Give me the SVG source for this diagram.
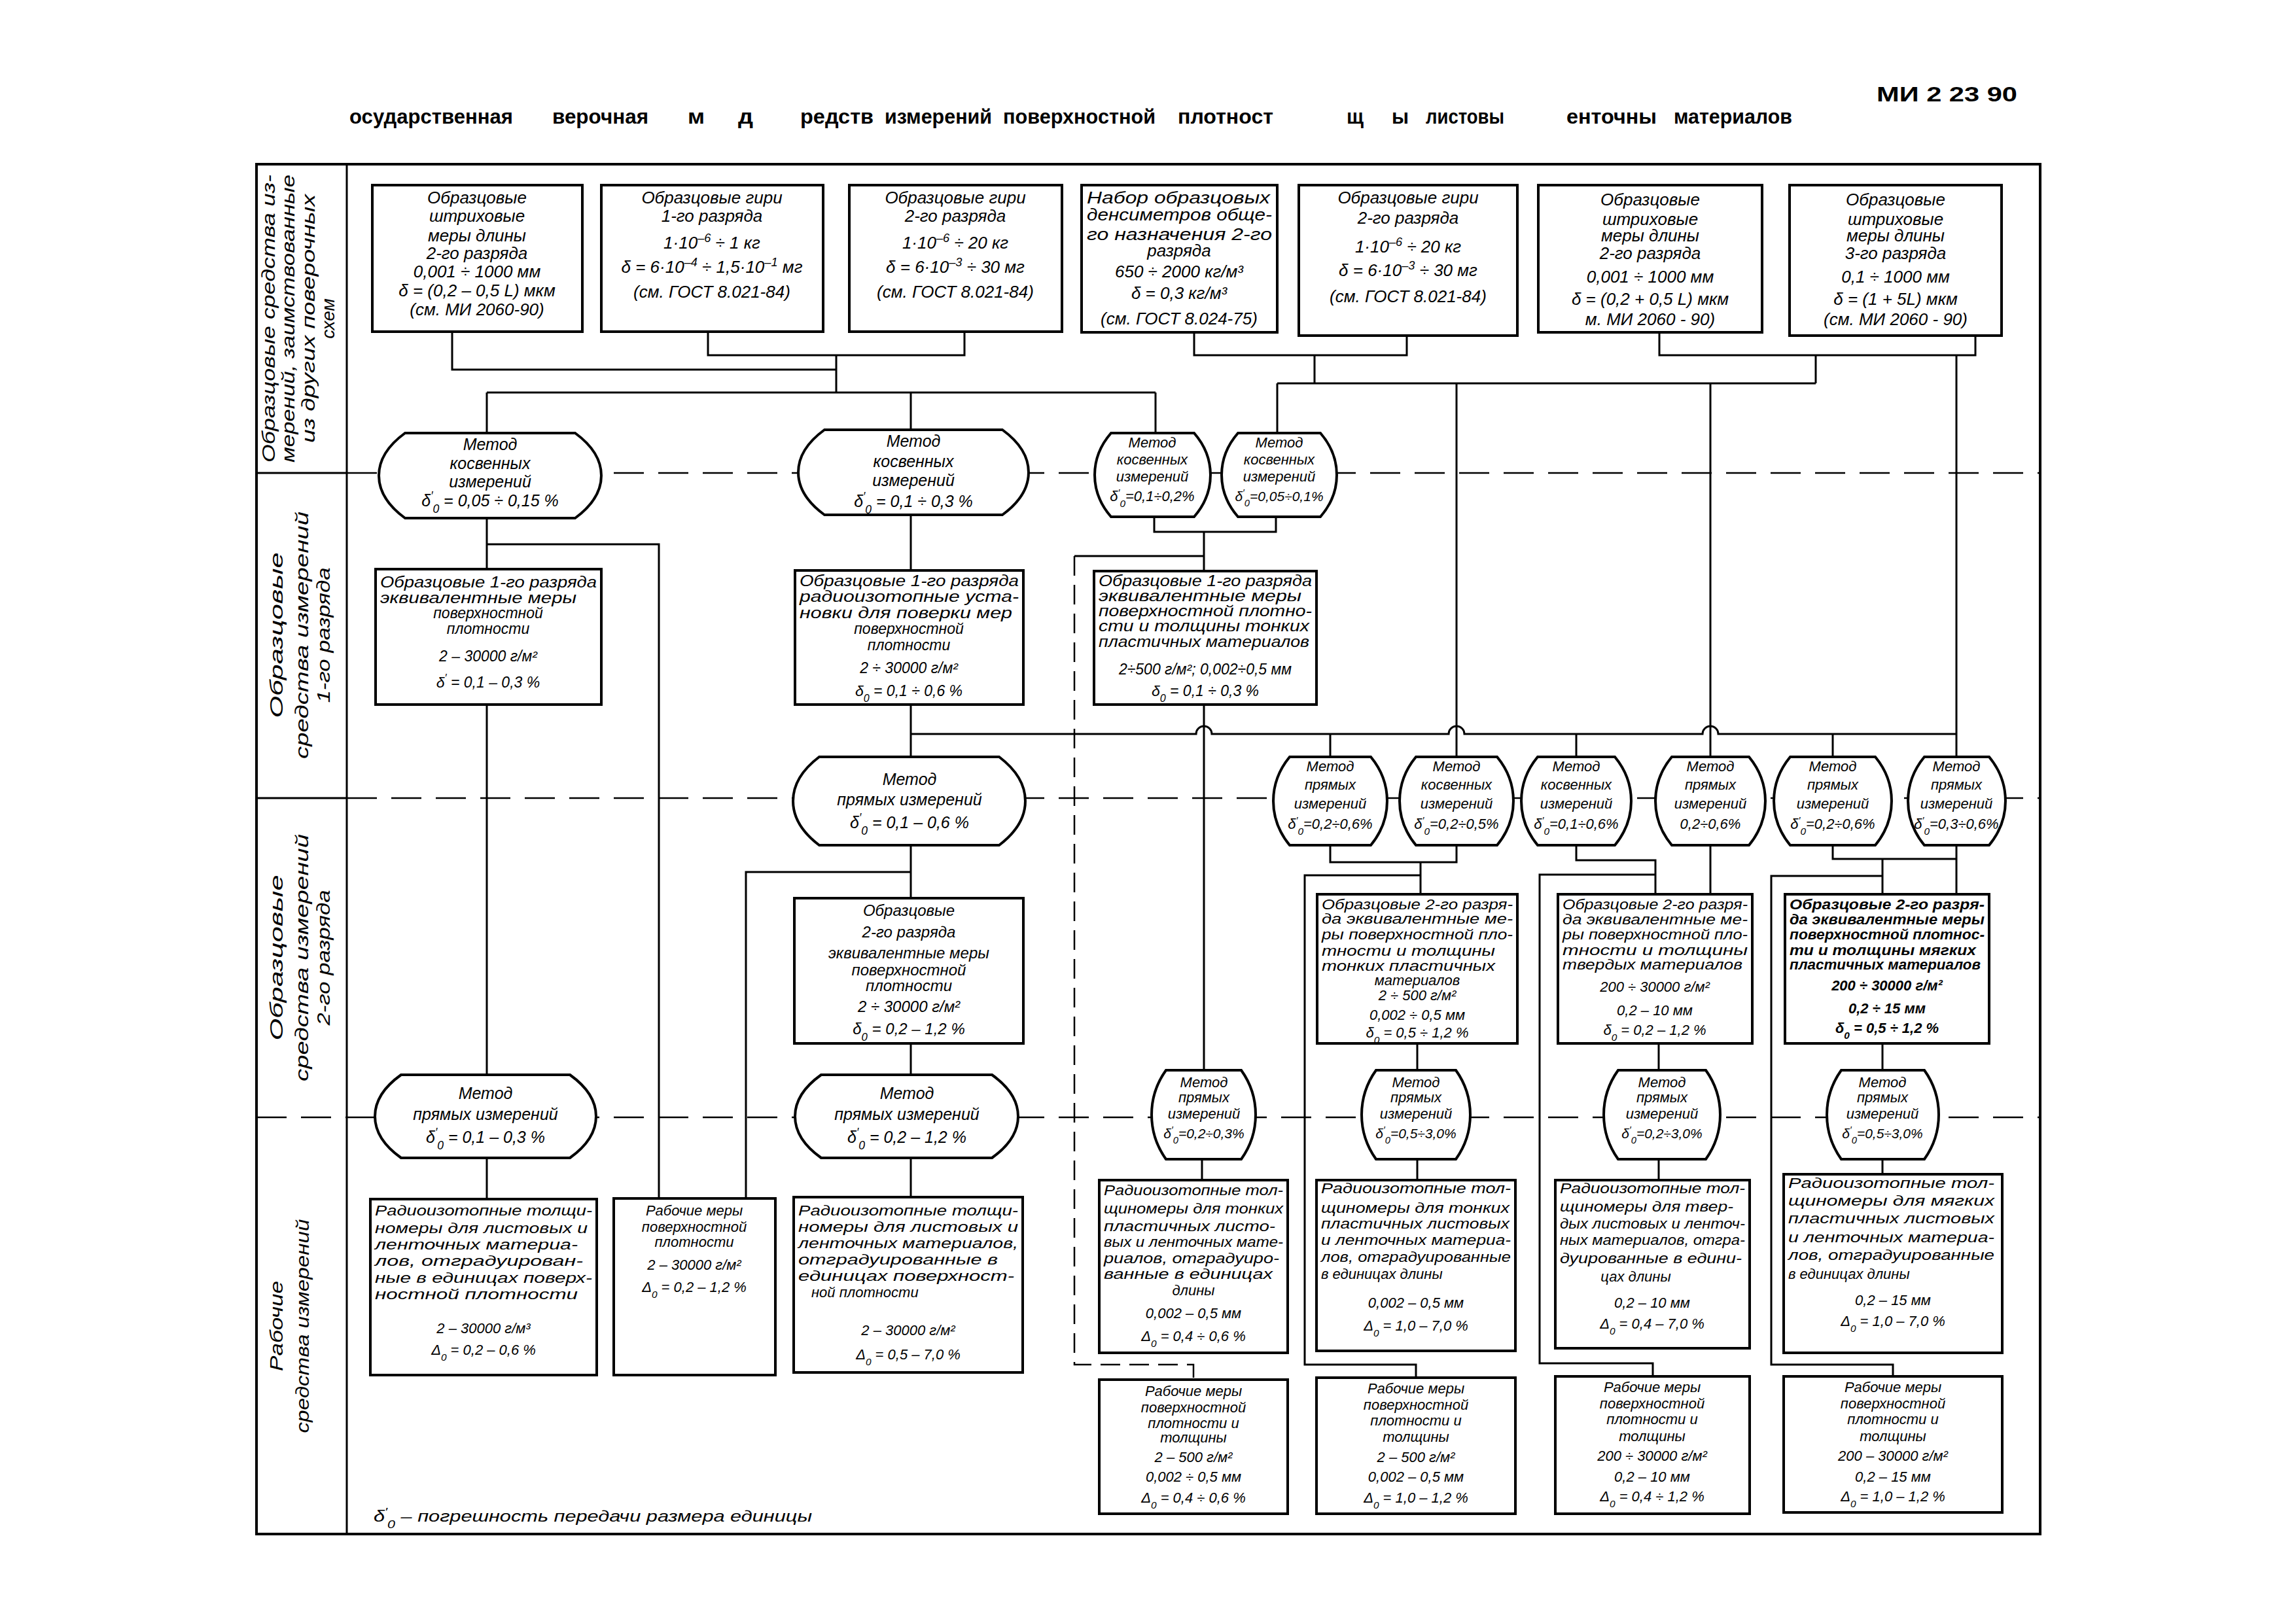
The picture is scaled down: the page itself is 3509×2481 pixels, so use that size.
<svg xmlns="http://www.w3.org/2000/svg" width="3509" height="2481" viewBox="0 0 3509 2481">
<style>
.bx{fill:#fff;stroke:#000;stroke-width:4}
.ov{fill:#fff;stroke:#000;stroke-width:4}
.c{fill:none;stroke:#000;stroke-width:3}
.cd{fill:none;stroke:#000;stroke-width:2.5;stroke-dasharray:30 14}
.sep{fill:none;stroke:#000;stroke-width:2.5;stroke-dasharray:46 22}
.fr{fill:none;stroke:#000;stroke-width:4}
text{font-family:"Liberation Sans","DejaVu Sans",sans-serif;font-style:italic;fill:#000}
.m{text-anchor:middle}
.f26{font-size:26px}.f25{font-size:25px}.f24{font-size:24px}.f23{font-size:23px}.f22{font-size:22px}.f21{font-size:21px}
.b{font-weight:bold}
.hd{font-style:normal;font-weight:bold;font-size:32px}
.lb{font-size:28px;text-anchor:middle}
.sb{baseline-shift:sub;font-size:70%}
.sp{baseline-shift:super;font-size:70%}
</style>

<g id="frame">
<rect class="fr" x="392" y="251" width="2726" height="2094"/>
<line class="c" x1="530" y1="251" x2="530" y2="2345"/>
<line class="c" x1="392" y1="723" x2="530" y2="723"/>
<line class="c" x1="392" y1="1220" x2="530" y2="1220"/>
<line class="sep" x1="392" y1="1708" x2="530" y2="1708"/>
<line class="sep" x1="530" y1="723" x2="3118" y2="723"/>
<line class="sep" x1="530" y1="1220" x2="3118" y2="1220"/>
<line class="sep" x1="530" y1="1708" x2="3118" y2="1708"/>
</g>

<g id="header">
<text class="hd" x="534" y="189" textLength="250" lengthAdjust="spacingAndGlyphs">осударственная</text>
<text class="hd" x="844" y="189" textLength="147" lengthAdjust="spacingAndGlyphs">верочная</text>
<text class="hd" x="1051" y="189" textLength="26" lengthAdjust="spacingAndGlyphs">м</text>
<text class="hd" x="1128" y="189" textLength="23" lengthAdjust="spacingAndGlyphs">д</text>
<text class="hd" x="1223" y="189" textLength="112" lengthAdjust="spacingAndGlyphs">редств</text>
<text class="hd" x="1352" y="189" textLength="164" lengthAdjust="spacingAndGlyphs">измерений</text>
<text class="hd" x="1533" y="189" textLength="233" lengthAdjust="spacingAndGlyphs">поверхностной</text>
<text class="hd" x="1800" y="189" textLength="146" lengthAdjust="spacingAndGlyphs">плотност</text>
<text class="hd" x="2058" y="189" textLength="26" lengthAdjust="spacingAndGlyphs">щ</text>
<text class="hd" x="2127" y="189" textLength="26" lengthAdjust="spacingAndGlyphs">ы</text>
<text class="hd" x="2179" y="189" textLength="120" lengthAdjust="spacingAndGlyphs">листовы</text>
<text class="hd" x="2394" y="189" textLength="138" lengthAdjust="spacingAndGlyphs">енточны</text>
<text class="hd" x="2558" y="189" textLength="181" lengthAdjust="spacingAndGlyphs">материалов</text>
<text class="hd" x="2868" y="155" textLength="215" lengthAdjust="spacingAndGlyphs">МИ 2 23  90</text>
</g>

<g id="row-labels">
<text class="lb" x="420" y="487" transform="rotate(-90 420 487)" textLength="440" lengthAdjust="spacingAndGlyphs">Образцовые средства из-</text>
<text class="lb" x="450" y="487" transform="rotate(-90 450 487)" textLength="440" lengthAdjust="spacingAndGlyphs">мерений, заимствованные</text>
<text class="lb" x="481" y="487" transform="rotate(-90 481 487)" textLength="380" lengthAdjust="spacingAndGlyphs">из других поверочных</text>
<text class="lb" x="511" y="487" transform="rotate(-90 511 487)">схем</text>
<text class="lb" x="432" y="971" transform="rotate(-90 432 971)" textLength="253" lengthAdjust="spacingAndGlyphs">Образцовые</text>
<text class="lb" x="471" y="971" transform="rotate(-90 471 971)" textLength="378" lengthAdjust="spacingAndGlyphs">средства измерений</text>
<text class="lb" x="504" y="971" transform="rotate(-90 504 971)" textLength="207" lengthAdjust="spacingAndGlyphs">1-го разряда</text>
<text class="lb" x="432" y="1464" transform="rotate(-90 432 1464)" textLength="253" lengthAdjust="spacingAndGlyphs">Образцовые</text>
<text class="lb" x="471" y="1464" transform="rotate(-90 471 1464)" textLength="378" lengthAdjust="spacingAndGlyphs">средства измерений</text>
<text class="lb" x="504" y="1464" transform="rotate(-90 504 1464)" textLength="207" lengthAdjust="spacingAndGlyphs">2-го разряда</text>
<text class="lb" x="432" y="2027" transform="rotate(-90 432 2027)" textLength="138" lengthAdjust="spacingAndGlyphs">Рабочие</text>
<text class="lb" x="472" y="2027" transform="rotate(-90 472 2027)" textLength="327" lengthAdjust="spacingAndGlyphs">средства измерений</text>
</g>

<g id="connectors">
<path class="c" d="M691,507 V565 H1278 M1082,507 V543 H1474 V507 M1278,543 V600 M744,600 H1766 M744,600 V662 M1392,600 V657 M1766,600 V662"/>
<path class="c" d="M1825,508 V543 H2150 V513 M2009,543 V586 M2536,508 V543 H3019 V513 M2775,543 V586 M1952,586 H2775 M1952,586 V662 M2226,586 V1157 M2614,586 V1157 M2990,543 V1157"/>
<path class="c" d="M744,792 V870 M744,832 H1007 V1832 M1392,787 V872 M1764,790 V813 H1950 V790 M1840,813 V873 M1840,850 H1642"/>
<path class="cd" d="M1642,850 V2086 H1824 V2109"/>
<path class="c" d="M744,1077 V1643 M1392,1077 V1157 M1840,1077 V1636"/>
<path class="c" d="M1392,1122 H1828 A12,12 0 0 1 1852,1122 H2214 A12,12 0 0 1 2238,1122 H2602 A12,12 0 0 1 2626,1122 H2990 M2033,1122 V1157 M2409,1122 V1157 M2801,1122 V1157"/>
<path class="c" d="M1392,1292 V1373 M1392,1333 H1140 V1832"/>
<path class="c" d="M2033,1292 V1318 H2226 V1292 M2171,1318 V1367 M2171,1338 H1994 V2086 H2164 V2106"/>
<path class="c" d="M2409,1292 V1315 H2530 V1367 M2530,1337 H2353 V2084 H2526 V2104 M2614,1292 V1367"/>
<path class="c" d="M2801,1292 V1313 H2990 M2990,1292 V1367 M2877,1313 V1367 M2877,1339 H2707 V2086 H2893 V2104"/>
<path class="c" d="M1392,1595 V1643 M1392,1770 V1830 M744,1770 V1833 M2166,1595 V1636 M2166,1772 V1804 M2535,1595 V1636 M2535,1772 V1804 M2877,1595 V1636 M2877,1772 V1795 M1837,1772 V1804"/>
</g>

<g id="t1"><rect class="bx" x="569" y="283" width="321" height="224"/>
<text class="f26 m" x="729" y="311">Образцовые</text>
<text class="f26 m" x="729" y="339">штриховые</text>
<text class="f26 m" x="729" y="369">меры длины</text>
<text class="f26 m" x="729" y="396">2-го разряда</text>
<text class="f26 m" x="729" y="424">0,001 ÷ 1000 мм</text>
<text class="f26 m" x="729" y="453">δ = (0,2 – 0,5 L) мкм</text>
<text class="f26 m" x="729" y="482">(см. МИ 2060-90)</text></g>

<g id="t2"><rect class="bx" x="919" y="283" width="339" height="224"/>
<text class="f26 m" x="1088" y="311">Образцовые гири</text>
<text class="f26 m" x="1088" y="339">1-го разряда</text>
<text class="f26 m" x="1088" y="380">1·10<tspan class="sp">–6</tspan> ÷ 1 кг</text>
<text class="f26 m" x="1088" y="417">δ = 6·10<tspan class="sp">–4</tspan> ÷ 1,5·10<tspan class="sp">–1</tspan> мг</text>
<text class="f26 m" x="1088" y="455">(см. ГОСТ 8.021-84)</text></g>

<g id="t3"><rect class="bx" x="1298" y="283" width="325" height="224"/>
<text class="f26 m" x="1460" y="311">Образцовые гири</text>
<text class="f26 m" x="1460" y="339">2-го разряда</text>
<text class="f26 m" x="1460" y="380">1·10<tspan class="sp">–6</tspan> ÷ 20 кг</text>
<text class="f26 m" x="1460" y="417">δ = 6·10<tspan class="sp">–3</tspan> ÷ 30 мг</text>
<text class="f26 m" x="1460" y="455">(см. ГОСТ 8.021-84)</text></g>

<g id="t4"><rect class="bx" x="1653" y="283" width="299" height="225"/>
<text class="f26" x="1661" y="311" textLength="280" lengthAdjust="spacingAndGlyphs">Набор образцовых</text>
<text class="f26" x="1661" y="337" textLength="283" lengthAdjust="spacingAndGlyphs">денсиметров обще-</text>
<text class="f26" x="1661" y="367" textLength="283" lengthAdjust="spacingAndGlyphs">го назначения 2-го</text>
<text class="f26 m" x="1802" y="392">разряда</text>
<text class="f26 m" x="1802" y="424">650 ÷ 2000 кг/м³</text>
<text class="f26 m" x="1802" y="457">δ = 0,3 кг/м³</text>
<text class="f26 m" x="1802" y="496">(см. ГОСТ 8.024-75)</text></g>

<g id="t5"><rect class="bx" x="1985" y="283" width="334" height="230"/>
<text class="f26 m" x="2152" y="311">Образцовые гири</text>
<text class="f26 m" x="2152" y="342">2-го разряда</text>
<text class="f26 m" x="2152" y="386">1·10<tspan class="sp">–6</tspan> ÷ 20 кг</text>
<text class="f26 m" x="2152" y="422">δ = 6·10<tspan class="sp">–3</tspan> ÷ 30 мг</text>
<text class="f26 m" x="2152" y="462">(см. ГОСТ 8.021-84)</text></g>

<g id="t6"><rect class="bx" x="2351" y="283" width="342" height="225"/>
<text class="f26 m" x="2522" y="314">Образцовые</text>
<text class="f26 m" x="2522" y="344">штриховые</text>
<text class="f26 m" x="2522" y="369">меры длины</text>
<text class="f26 m" x="2522" y="396">2-го разряда</text>
<text class="f26 m" x="2522" y="432">0,001 ÷ 1000 мм</text>
<text class="f26 m" x="2522" y="466">δ = (0,2 + 0,5 L) мкм</text>
<text class="f26 m" x="2522" y="497">м. МИ 2060 - 90)</text></g>

<g id="t7"><rect class="bx" x="2735" y="283" width="324" height="230"/>
<text class="f26 m" x="2897" y="314">Образцовые</text>
<text class="f26 m" x="2897" y="344">штриховые</text>
<text class="f26 m" x="2897" y="369">меры длины</text>
<text class="f26 m" x="2897" y="396">3-го разряда</text>
<text class="f26 m" x="2897" y="432">0,1 ÷ 1000 мм</text>
<text class="f26 m" x="2897" y="466">δ = (1 + 5L) мкм</text>
<text class="f26 m" x="2897" y="497">(см. МИ 2060 - 90)</text></g>

<g id="o1"><path class="ov" d="M619,662 H879 C932.3,701 932.3,753 879,792 H619 C565.7,753 565.7,701 619,662Z"/>
<text class="f25 m" x="749" y="688">Метод</text>
<text class="f25 m" x="749" y="717">косвенных</text>
<text class="f25 m" x="749" y="745">измерений</text>
<text class="f25 m" x="749" y="774">δ<tspan class="sp">′</tspan><tspan class="sb">0</tspan> = 0,05 ÷ 0,15 %</text></g>

<g id="o2"><path class="ov" d="M1260,657 H1532 C1585.3,696 1585.3,748 1532,787 H1260 C1206.7,748 1206.7,696 1260,657Z"/>
<text class="f25 m" x="1396" y="683">Метод</text>
<text class="f25 m" x="1396" y="714">косвенных</text>
<text class="f25 m" x="1396" y="743">измерений</text>
<text class="f25 m" x="1396" y="775">δ<tspan class="sp">′</tspan><tspan class="sb">0</tspan> = 0,1 ÷ 0,3 %</text></g>

<g id="o3"><path class="ov" d="M1698,662 H1825 C1858.3,700.4 1858.3,751.6 1825,790 H1698 C1664.7,751.6 1664.7,700.4 1698,662Z"/>
<text class="f22 m" x="1761" y="684">Метод</text>
<text class="f22 m" x="1761" y="710">косвенных</text>
<text class="f22 m" x="1761" y="736">измерений</text>
<text class="f22 m" x="1761" y="766">δ<tspan class="sp">′</tspan><tspan class="sb">0</tspan>=0,1÷0,2%</text></g>

<g id="o4"><path class="ov" d="M1892,662 H2018 C2051.3,700.4 2051.3,751.6 2018,790 H1892 C1858.7,751.6 1858.7,700.4 1892,662Z"/>
<text class="f22 m" x="1955" y="684">Метод</text>
<text class="f22 m" x="1955" y="710">косвенных</text>
<text class="f22 m" x="1955" y="736">измерений</text>
<text class="f21 m" x="1955" y="766">δ<tspan class="sp">′</tspan><tspan class="sb">0</tspan>=0,05÷0,1%</text></g>

<g id="b1A"><rect class="bx" x="574" y="870" width="345" height="207"/>
<text class="f23" x="581" y="898" textLength="331" lengthAdjust="spacingAndGlyphs">Образцовые 1-го разряда</text>
<text class="f23" x="581" y="922" textLength="300" lengthAdjust="spacingAndGlyphs">эквивалентные меры</text>
<text class="f23 m" x="746" y="945">поверхностной</text>
<text class="f23 m" x="746" y="969">плотности</text>
<text class="f23 m" x="746" y="1011">2 – 30000 г/м²</text>
<text class="f23 m" x="746" y="1051">δ<tspan class="sp">′</tspan> = 0,1 – 0,3 %</text></g>

<g id="b1B"><rect class="bx" x="1215" y="872" width="349" height="205"/>
<text class="f23" x="1222" y="896" textLength="335" lengthAdjust="spacingAndGlyphs">Образцовые 1-го разряда</text>
<text class="f23" x="1222" y="920" textLength="335" lengthAdjust="spacingAndGlyphs">радиоизотопные уста-</text>
<text class="f23" x="1222" y="945" textLength="325" lengthAdjust="spacingAndGlyphs">новки для поверки мер</text>
<text class="f23 m" x="1389" y="969">поверхностной</text>
<text class="f23 m" x="1389" y="994">плотности</text>
<text class="f23 m" x="1389" y="1029">2 ÷ 30000 г/м²</text>
<text class="f23 m" x="1389" y="1064">δ<tspan class="sb">0</tspan> = 0,1 ÷ 0,6 %</text></g>

<g id="b1C"><rect class="bx" x="1672" y="873" width="340" height="204"/>
<text class="f23" x="1679" y="896" textLength="326" lengthAdjust="spacingAndGlyphs">Образцовые 1-го разряда</text>
<text class="f23" x="1679" y="919" textLength="310" lengthAdjust="spacingAndGlyphs">эквивалентные меры</text>
<text class="f23" x="1679" y="942" textLength="326" lengthAdjust="spacingAndGlyphs">поверхностной плотно-</text>
<text class="f23" x="1679" y="965" textLength="322" lengthAdjust="spacingAndGlyphs">сти и толщины тонких</text>
<text class="f23" x="1679" y="989" textLength="322" lengthAdjust="spacingAndGlyphs">пластичных материалов</text>
<text class="f23 m" x="1842" y="1031">2÷500 г/м²;  0,002÷0,5 мм</text>
<text class="f23 m" x="1842" y="1064">δ<tspan class="sb">0</tspan> = 0,1 ÷ 0,3 %</text></g>

<g id="oA"><path class="ov" d="M1252,1157 H1527 C1580.3,1197.5 1580.3,1251.5 1527,1292 H1252 C1198.7,1251.5 1198.7,1197.5 1252,1157Z"/>
<text class="f25 m" x="1390" y="1200">Метод</text>
<text class="f25 m" x="1390" y="1231">прямых измерений</text>
<text class="f25 m" x="1390" y="1266">δ<tspan class="sp">′</tspan><tspan class="sb">0</tspan> = 0,1 – 0,6 %</text></g>

<g id="o2b"><path class="ov" d="M1971,1157 H2095 C2128.3,1197.5 2128.3,1251.5 2095,1292 H1971 C1937.7,1251.5 1937.7,1197.5 1971,1157Z"/>
<text class="f22 m" x="2033" y="1179">Метод</text>
<text class="f22 m" x="2033" y="1207">прямых</text>
<text class="f22 m" x="2033" y="1236">измерений</text>
<text class="f22 m" x="2033" y="1267">δ<tspan class="sp">′</tspan><tspan class="sb">0</tspan>=0,2÷0,6%</text></g>

<g id="o3b"><path class="ov" d="M2164,1157 H2288 C2321.3,1197.5 2321.3,1251.5 2288,1292 H2164 C2130.7,1251.5 2130.7,1197.5 2164,1157Z"/>
<text class="f22 m" x="2226" y="1179">Метод</text>
<text class="f22 m" x="2226" y="1207">косвенных</text>
<text class="f22 m" x="2226" y="1236">измерений</text>
<text class="f22 m" x="2226" y="1267">δ<tspan class="sp">′</tspan><tspan class="sb">0</tspan>=0,2÷0,5%</text></g>

<g id="o4b"><path class="ov" d="M2350,1157 H2468 C2501.3,1197.5 2501.3,1251.5 2468,1292 H2350 C2316.7,1251.5 2316.7,1197.5 2350,1157Z"/>
<text class="f22 m" x="2409" y="1179">Метод</text>
<text class="f22 m" x="2409" y="1207">косвенных</text>
<text class="f22 m" x="2409" y="1236">измерений</text>
<text class="f22 m" x="2409" y="1267">δ<tspan class="sp">′</tspan><tspan class="sb">0</tspan>=0,1÷0,6%</text></g>

<g id="o5b"><path class="ov" d="M2555,1157 H2673 C2706.3,1197.5 2706.3,1251.5 2673,1292 H2555 C2521.7,1251.5 2521.7,1197.5 2555,1157Z"/>
<text class="f22 m" x="2614" y="1179">Метод</text>
<text class="f22 m" x="2614" y="1207">прямых</text>
<text class="f22 m" x="2614" y="1236">измерений</text>
<text class="f22 m" x="2614" y="1267">0,2÷0,6%</text></g>

<g id="o6b"><path class="ov" d="M2736,1157 H2866 C2899.3,1197.5 2899.3,1251.5 2866,1292 H2736 C2702.7,1251.5 2702.7,1197.5 2736,1157Z"/>
<text class="f22 m" x="2801" y="1179">Метод</text>
<text class="f22 m" x="2801" y="1207">прямых</text>
<text class="f22 m" x="2801" y="1236">измерений</text>
<text class="f22 m" x="2801" y="1267">δ<tspan class="sp">′</tspan><tspan class="sb">0</tspan>=0,2÷0,6%</text></g>

<g id="o7b"><path class="ov" d="M2941,1157 H3040 C3073.3,1197.5 3073.3,1251.5 3040,1292 H2941 C2907.7,1251.5 2907.7,1197.5 2941,1157Z"/>
<text class="f22 m" x="2990" y="1179">Метод</text>
<text class="f22 m" x="2990" y="1207">прямых</text>
<text class="f22 m" x="2990" y="1236">измерений</text>
<text class="f22 m" x="2990" y="1267">δ<tspan class="sp">′</tspan><tspan class="sb">0</tspan>=0,3÷0,6%</text></g>

<g id="b2A"><rect class="bx" x="1214" y="1373" width="350" height="222"/>
<text class="f24 m" x="1389" y="1400">Образцовые</text>
<text class="f24 m" x="1389" y="1433">2-го разряда</text>
<text class="f24 m" x="1389" y="1465">эквивалентные меры</text>
<text class="f24 m" x="1389" y="1491">поверхностной</text>
<text class="f24 m" x="1389" y="1515">плотности</text>
<text class="f24 m" x="1389" y="1547">2 ÷ 30000 г/м²</text>
<text class="f24 m" x="1389" y="1581">δ<tspan class="sb">0</tspan> = 0,2 – 1,2 %</text></g>

<g id="b2D"><rect class="bx" x="2013" y="1367" width="306" height="228"/>
<text class="f22" x="2020" y="1390" textLength="292" lengthAdjust="spacingAndGlyphs">Образцовые 2-го разря-</text>
<text class="f22" x="2020" y="1412" textLength="292" lengthAdjust="spacingAndGlyphs">да эквивалентные ме-</text>
<text class="f22" x="2020" y="1436" textLength="292" lengthAdjust="spacingAndGlyphs">ры поверхностной пло-</text>
<text class="f22" x="2020" y="1461" textLength="265" lengthAdjust="spacingAndGlyphs">тности и толщины</text>
<text class="f22" x="2020" y="1484" textLength="265" lengthAdjust="spacingAndGlyphs">тонких пластичных</text>
<text class="f22 m" x="2166" y="1506">материалов</text>
<text class="f22 m" x="2166" y="1529">2 ÷ 500 г/м²</text>
<text class="f22 m" x="2166" y="1559">0,002 ÷ 0,5 мм</text>
<text class="f22 m" x="2166" y="1586">δ<tspan class="sb">0</tspan> = 0,5 ÷ 1,2 %</text></g>

<g id="b2E"><rect class="bx" x="2381" y="1367" width="297" height="228"/>
<text class="f22" x="2388" y="1390" textLength="283" lengthAdjust="spacingAndGlyphs">Образцовые 2-го разря-</text>
<text class="f22" x="2388" y="1413" textLength="283" lengthAdjust="spacingAndGlyphs">да эквивалентные ме-</text>
<text class="f22" x="2388" y="1436" textLength="283" lengthAdjust="spacingAndGlyphs">ры поверхностной пло-</text>
<text class="f22" x="2388" y="1460" textLength="283" lengthAdjust="spacingAndGlyphs">тности и толщины</text>
<text class="f22" x="2388" y="1482" textLength="275" lengthAdjust="spacingAndGlyphs">твердых материалов</text>
<text class="f22 m" x="2529" y="1516">200 ÷ 30000 г/м²</text>
<text class="f22 m" x="2529" y="1552">0,2 – 10 мм</text>
<text class="f22 m" x="2529" y="1582">δ<tspan class="sb">0</tspan> = 0,2 – 1,2 %</text></g>

<g id="b2F"><rect class="bx" x="2728" y="1367" width="312" height="228"/>
<text class="f22 b" x="2735" y="1390" textLength="298" lengthAdjust="spacingAndGlyphs">Образцовые 2-го разря-</text>
<text class="f22 b" x="2735" y="1413" textLength="298" lengthAdjust="spacingAndGlyphs">да эквивалентные меры</text>
<text class="f22 b" x="2735" y="1436" textLength="298" lengthAdjust="spacingAndGlyphs">поверхностной плотнос-</text>
<text class="f22 b" x="2735" y="1460" textLength="285" lengthAdjust="spacingAndGlyphs">ти и толщины мягких</text>
<text class="f22 b" x="2735" y="1482" textLength="292" lengthAdjust="spacingAndGlyphs">пластичных материалов</text>
<text class="f22 b m" x="2884" y="1514">200 ÷ 30000 г/м²</text>
<text class="f22 b m" x="2884" y="1549">0,2 ÷ 15 мм</text>
<text class="f22 b m" x="2884" y="1579">δ<tspan class="sb">0</tspan> = 0,5 ÷ 1,2 %</text></g>

<g id="p1"><path class="ov" d="M613,1643 H871 C924.3,1681 924.3,1732 871,1770 H613 C559.7,1732 559.7,1681 613,1643Z"/>
<text class="f25 m" x="742" y="1680">Метод</text>
<text class="f25 m" x="742" y="1712">прямых измерений</text>
<text class="f25 m" x="742" y="1747">δ<tspan class="sp">′</tspan><tspan class="sb">0</tspan> = 0,1 – 0,3 %</text></g>

<g id="p2"><path class="ov" d="M1255,1643 H1516 C1569.3,1681 1569.3,1732 1516,1770 H1255 C1201.7,1732 1201.7,1681 1255,1643Z"/>
<text class="f25 m" x="1386" y="1680">Метод</text>
<text class="f25 m" x="1386" y="1712">прямых измерений</text>
<text class="f25 m" x="1386" y="1747">δ<tspan class="sp">′</tspan><tspan class="sb">0</tspan> = 0,2 – 1,2 %</text></g>

<g id="p3"><path class="ov" d="M1782,1636 H1897 C1926.3,1677 1926.3,1731 1897,1772 H1782 C1752.7,1731 1752.7,1677 1782,1636Z"/>
<text class="f22 m" x="1840" y="1662">Метод</text>
<text class="f22 m" x="1840" y="1685">прямых</text>
<text class="f22 m" x="1840" y="1710">измерений</text>
<text class="f21 m" x="1840" y="1740">δ<tspan class="sp">′</tspan><tspan class="sb">0</tspan>=0,2÷0,3%</text></g>

<g id="p4"><path class="ov" d="M2103,1636 H2225 C2254.3,1677 2254.3,1731 2225,1772 H2103 C2073.7,1731 2073.7,1677 2103,1636Z"/>
<text class="f22 m" x="2164" y="1662">Метод</text>
<text class="f22 m" x="2164" y="1685">прямых</text>
<text class="f22 m" x="2164" y="1710">измерений</text>
<text class="f21 m" x="2164" y="1740">δ<tspan class="sp">′</tspan><tspan class="sb">0</tspan>=0,5÷3,0%</text></g>

<g id="p5"><path class="ov" d="M2473,1636 H2607 C2636.3,1677 2636.3,1731 2607,1772 H2473 C2443.7,1731 2443.7,1677 2473,1636Z"/>
<text class="f22 m" x="2540" y="1662">Метод</text>
<text class="f22 m" x="2540" y="1685">прямых</text>
<text class="f22 m" x="2540" y="1710">измерений</text>
<text class="f21 m" x="2540" y="1740">δ<tspan class="sp">′</tspan><tspan class="sb">0</tspan>=0,2÷3,0%</text></g>

<g id="p6"><path class="ov" d="M2814,1636 H2941 C2970.3,1677 2970.3,1731 2941,1772 H2814 C2784.7,1731 2784.7,1677 2814,1636Z"/>
<text class="f22 m" x="2877" y="1662">Метод</text>
<text class="f22 m" x="2877" y="1685">прямых</text>
<text class="f22 m" x="2877" y="1710">измерений</text>
<text class="f21 m" x="2877" y="1740">δ<tspan class="sp">′</tspan><tspan class="sb">0</tspan>=0,5÷3,0%</text></g>

<g id="w1"><rect class="bx" x="566" y="1833" width="346" height="269"/>
<text class="f22" x="573" y="1858" textLength="332" lengthAdjust="spacingAndGlyphs">Радиоизотопные толщи-</text>
<text class="f22" x="573" y="1885" textLength="325" lengthAdjust="spacingAndGlyphs">номеры для листовых и</text>
<text class="f22" x="573" y="1910" textLength="310" lengthAdjust="spacingAndGlyphs">ленточных материа-</text>
<text class="f22" x="573" y="1935" textLength="318" lengthAdjust="spacingAndGlyphs">лов, отградуирован-</text>
<text class="f22" x="573" y="1961" textLength="332" lengthAdjust="spacingAndGlyphs">ные в единицах поверх-</text>
<text class="f22" x="573" y="1986" textLength="310" lengthAdjust="spacingAndGlyphs">ностной плотности</text>
<text class="f22 m" x="739" y="2038">2 – 30000 г/м³</text>
<text class="f22 m" x="739" y="2071">Δ<tspan class="sb">0</tspan> = 0,2 – 0,6 %</text></g>

<g id="w2"><rect class="bx" x="938" y="1832" width="247" height="270"/>
<text class="f22 m" x="1061" y="1858">Рабочие меры</text>
<text class="f22 m" x="1061" y="1883">поверхностной</text>
<text class="f22 m" x="1061" y="1906">плотности</text>
<text class="f22 m" x="1061" y="1941">2 – 30000 г/м²</text>
<text class="f22 m" x="1061" y="1975">Δ<tspan class="sb">0</tspan> = 0,2 – 1,2 %</text></g>

<g id="w3"><rect class="bx" x="1213" y="1830" width="350" height="268"/>
<text class="f22" x="1220" y="1858" textLength="336" lengthAdjust="spacingAndGlyphs">Радиоизотопные толщи-</text>
<text class="f22" x="1220" y="1883" textLength="336" lengthAdjust="spacingAndGlyphs">номеры для листовых и</text>
<text class="f22" x="1220" y="1908" textLength="336" lengthAdjust="spacingAndGlyphs">ленточных материалов,</text>
<text class="f22" x="1220" y="1933" textLength="305" lengthAdjust="spacingAndGlyphs">отградуированные в</text>
<text class="f22" x="1220" y="1958" textLength="330" lengthAdjust="spacingAndGlyphs">единицах поверхност-</text>
<text class="f22" x="1240" y="1983">ной плотности</text>
<text class="f22 m" x="1388" y="2041">2 – 30000 г/м²</text>
<text class="f22 m" x="1388" y="2078">Δ<tspan class="sb">0</tspan> = 0,5 – 7,0 %</text></g>

<g id="wG"><rect class="bx" x="1680" y="1804" width="288" height="264"/>
<text class="f22" x="1687" y="1827" textLength="274" lengthAdjust="spacingAndGlyphs">Радиоизотопные тол-</text>
<text class="f22" x="1687" y="1855" textLength="274" lengthAdjust="spacingAndGlyphs">щиномеры для тонких</text>
<text class="f22" x="1687" y="1882" textLength="262" lengthAdjust="spacingAndGlyphs">пластичных листо-</text>
<text class="f22" x="1687" y="1906" textLength="274" lengthAdjust="spacingAndGlyphs">вых и ленточных мате-</text>
<text class="f22" x="1687" y="1931" textLength="268" lengthAdjust="spacingAndGlyphs">риалов, отградуиро-</text>
<text class="f22" x="1687" y="1955" textLength="258" lengthAdjust="spacingAndGlyphs">ванные в единицах</text>
<text class="f22 m" x="1824" y="1980">длины</text>
<text class="f22 m" x="1824" y="2015">0,002 – 0,5 мм</text>
<text class="f22 m" x="1824" y="2050">Δ<tspan class="sb">0</tspan> = 0,4 ÷ 0,6 %</text></g>

<g id="wH"><rect class="bx" x="2012" y="1804" width="304" height="261"/>
<text class="f22" x="2019" y="1824" textLength="290" lengthAdjust="spacingAndGlyphs">Радиоизотопные тол-</text>
<text class="f22" x="2019" y="1854" textLength="288" lengthAdjust="spacingAndGlyphs">щиномеры для тонких</text>
<text class="f22" x="2019" y="1878" textLength="288" lengthAdjust="spacingAndGlyphs">пластичных листовых</text>
<text class="f22" x="2019" y="1903" textLength="290" lengthAdjust="spacingAndGlyphs">и ленточных материа-</text>
<text class="f22" x="2019" y="1929" textLength="290" lengthAdjust="spacingAndGlyphs">лов, отградуированные</text>
<text class="f22" x="2019" y="1955">в единицах длины</text>
<text class="f22 m" x="2164" y="1999">0,002 – 0,5 мм</text>
<text class="f22 m" x="2164" y="2034">Δ<tspan class="sb">0</tspan> = 1,0 – 7,0 %</text></g>

<g id="wI"><rect class="bx" x="2377" y="1804" width="297" height="257"/>
<text class="f22" x="2384" y="1824" textLength="283" lengthAdjust="spacingAndGlyphs">Радиоизотопные тол-</text>
<text class="f22" x="2384" y="1852" textLength="265" lengthAdjust="spacingAndGlyphs">щиномеры для твер-</text>
<text class="f22" x="2384" y="1878" textLength="283" lengthAdjust="spacingAndGlyphs">дых листовых и ленточ-</text>
<text class="f22" x="2384" y="1903" textLength="283" lengthAdjust="spacingAndGlyphs">ных материалов, отгра-</text>
<text class="f22" x="2384" y="1931" textLength="278" lengthAdjust="spacingAndGlyphs">дуированные в едини-</text>
<text class="f22 m" x="2500" y="1959">цах длины</text>
<text class="f22 m" x="2525" y="1999">0,2 – 10 мм</text>
<text class="f22 m" x="2525" y="2031">Δ<tspan class="sb">0</tspan> = 0,4 – 7,0 %</text></g>

<g id="wJ"><rect class="bx" x="2726" y="1795" width="334" height="273"/>
<text class="f22" x="2733" y="1816" textLength="315" lengthAdjust="spacingAndGlyphs">Радиоизотопные тол-</text>
<text class="f22" x="2733" y="1843" textLength="315" lengthAdjust="spacingAndGlyphs">щиномеры для мягких</text>
<text class="f22" x="2733" y="1870" textLength="315" lengthAdjust="spacingAndGlyphs">пластичных листовых</text>
<text class="f22" x="2733" y="1899" textLength="315" lengthAdjust="spacingAndGlyphs">и ленточных материа-</text>
<text class="f22" x="2733" y="1926" textLength="315" lengthAdjust="spacingAndGlyphs">лов, отградуированные</text>
<text class="f22" x="2733" y="1955">в единицах длины</text>
<text class="f22 m" x="2893" y="1995">0,2 – 15 мм</text>
<text class="f22 m" x="2893" y="2027">Δ<tspan class="sb">0</tspan> = 1,0 – 7,0 %</text></g>

<g id="wK"><rect class="bx" x="1680" y="2109" width="288" height="205"/>
<text class="f22 m" x="1824" y="2134">Рабочие меры</text>
<text class="f22 m" x="1824" y="2159">поверхностной</text>
<text class="f22 m" x="1824" y="2183">плотности и</text>
<text class="f22 m" x="1824" y="2205">толщины</text>
<text class="f22 m" x="1824" y="2235">2 – 500 г/м²</text>
<text class="f22 m" x="1824" y="2265">0,002 ÷ 0,5 мм</text>
<text class="f22 m" x="1824" y="2297">Δ<tspan class="sb">0</tspan> = 0,4 ÷ 0,6 %</text></g>

<g id="wL"><rect class="bx" x="2012" y="2106" width="304" height="208"/>
<text class="f22 m" x="2164" y="2130">Рабочие меры</text>
<text class="f22 m" x="2164" y="2155">поверхностной</text>
<text class="f22 m" x="2164" y="2179">плотности и</text>
<text class="f22 m" x="2164" y="2204">толщины</text>
<text class="f22 m" x="2164" y="2235">2 – 500 г/м²</text>
<text class="f22 m" x="2164" y="2265">0,002 – 0,5 мм</text>
<text class="f22 m" x="2164" y="2297">Δ<tspan class="sb">0</tspan> = 1,0 – 1,2 %</text></g>

<g id="wM"><rect class="bx" x="2377" y="2104" width="297" height="210"/>
<text class="f22 m" x="2525" y="2128">Рабочие меры</text>
<text class="f22 m" x="2525" y="2153">поверхностной</text>
<text class="f22 m" x="2525" y="2177">плотности и</text>
<text class="f22 m" x="2525" y="2203">толщины</text>
<text class="f22 m" x="2525" y="2233">200 ÷ 30000 г/м²</text>
<text class="f22 m" x="2525" y="2265">0,2 – 10 мм</text>
<text class="f22 m" x="2525" y="2295">Δ<tspan class="sb">0</tspan> = 0,4 ÷ 1,2 %</text></g>

<g id="wN"><rect class="bx" x="2726" y="2104" width="334" height="208"/>
<text class="f22 m" x="2893" y="2128">Рабочие меры</text>
<text class="f22 m" x="2893" y="2153">поверхностной</text>
<text class="f22 m" x="2893" y="2177">плотности и</text>
<text class="f22 m" x="2893" y="2203">толщины</text>
<text class="f22 m" x="2893" y="2233">200 – 30000 г/м²</text>
<text class="f22 m" x="2893" y="2265">0,2 – 15 мм</text>
<text class="f22 m" x="2893" y="2295">Δ<tspan class="sb">0</tspan> = 1,0 – 1,2 %</text></g>

<g id="footnote">
<text class="f24" x="571" y="2326" textLength="670" lengthAdjust="spacingAndGlyphs">δ<tspan class="sp">′</tspan><tspan class="sb">0</tspan> – погрешность передачи размера единицы</text>
</g>
</svg>
